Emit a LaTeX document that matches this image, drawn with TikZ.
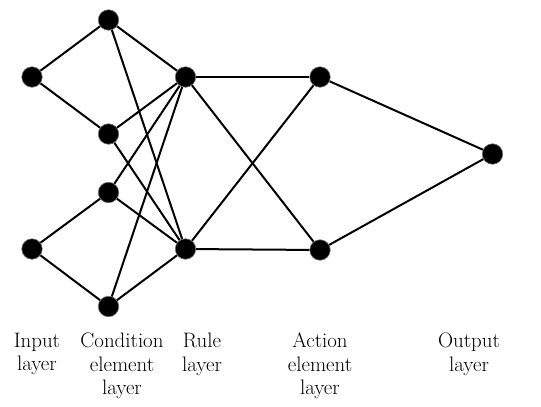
\documentclass[tikz,border=0pt]{standalone}
\begin{document}
\begin{tikzpicture}[x=1pt,y=-1pt,
  neuron/.style={circle,fill=black,draw=black!55,line width=0.6pt,minimum size=20.5pt,inner sep=0pt},
  link/.style={line width=2pt,black},
  lbl/.style={anchor=north,align=center,inner sep=0pt,font=\fontsize{20.9}{23.4}\selectfont}]
\useasboundingbox (0,0) rectangle (541,407);
\node[neuron] (i1) at (32,77) {};
\node[neuron] (i2) at (32,249) {};
\node[neuron] (c1) at (108.5,20) {};
\node[neuron] (c2) at (108.5,134) {};
\node[neuron] (c3) at (108.5,192.5) {};
\node[neuron] (c4) at (108.5,306.5) {};
\node[neuron] (r1) at (185.5,77) {};
\node[neuron] (r2) at (185.5,249) {};
\node[neuron] (a1) at (320,77) {};
\node[neuron] (a2) at (320,250) {};
\node[neuron] (o) at (492.5,154) {};
\draw[link] (i1) -- (c1);
\draw[link] (i1) -- (c2);
\draw[link] (i2) -- (c3);
\draw[link] (i2) -- (c4);
\foreach \c in {c1,c2,c3,c4}{
  \draw[link] (\c) -- (r1);
  \draw[link] (\c) -- (r2);
}
\draw[link] (r1) -- (a1);
\draw[link] (r1) -- (a2);
\draw[link] (r2) -- (a1);
\draw[link] (r2) -- (a2);
\draw[link] (a1) -- (o);
\draw[link] (a2) -- (o);
\node[lbl] (t1) at (37,333) {Input\\layer};
\node[lbl] (t2) at (122,333) {Condition\\element\\layer};
\node[lbl] (t3) at (202,333) {Rule\\layer};
\node[lbl] (t4) at (320,333) {Action\\element\\layer};
\node[lbl] (t5) at (469,333) {Output\\layer};
\end{tikzpicture}
\end{document}
